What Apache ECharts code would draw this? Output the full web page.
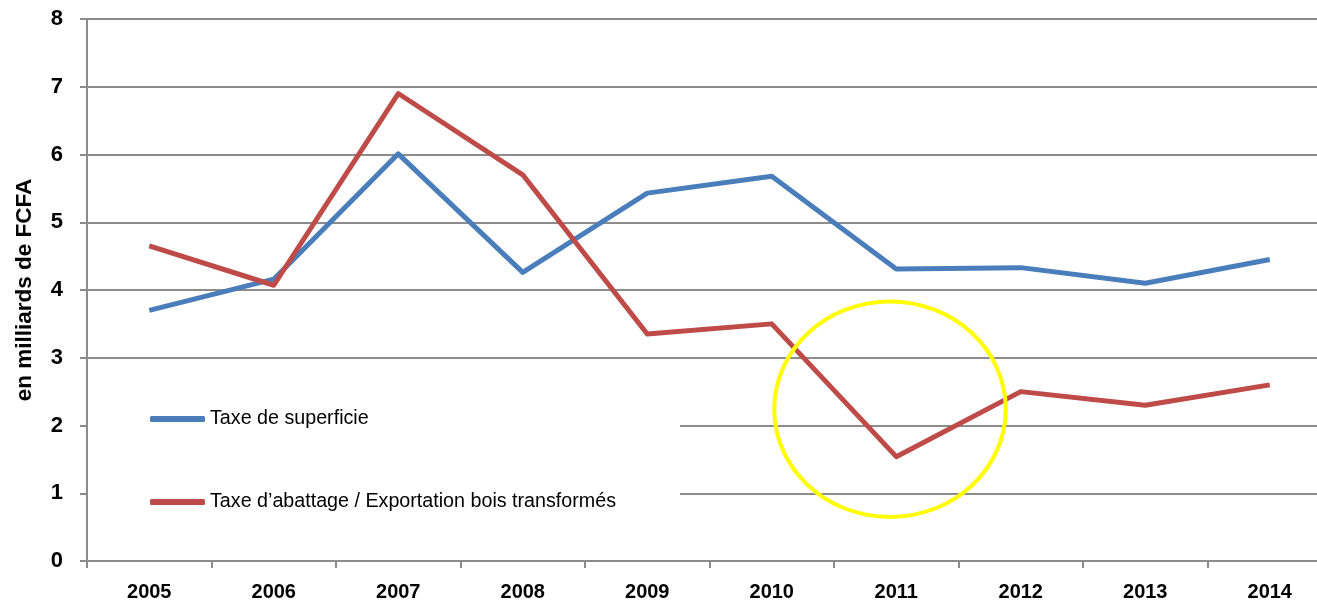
<!DOCTYPE html>
<html>
<head>
<meta charset="utf-8">
<script src="https://cdn.jsdelivr.net/npm/echarts@6/dist/echarts.min.js"></script>
<style>
html,body{margin:0;padding:0;background:#fff;}
#main{width:1317px;height:603px;}
</style>
</head>
<body>
<div id="main"></div>
<script>
const years = ['2005','2006','2007','2008','2009','2010','2011','2012','2013','2014'];
const taxeSuperficie = [3.70, 4.16, 6.01, 4.26, 5.43, 5.68, 4.31, 4.33, 4.10, 4.45];
const taxeAbattage = [4.65, 4.07, 6.90, 5.70, 3.35, 3.50, 1.54, 2.50, 2.30, 2.60];
const seriesNames = ['Taxe de superficie', 'Taxe d\u2019abattage / Exportation bois transformés'];
const yAxisTitle = 'en milliards de FCFA';
// highlight annotation (data coordinates)
const highlightYear = '2011';
const highlightValue = 2.24;

const FONT = '"Liberation Sans", Arial, sans-serif';
const GRID_GRAY = '#8c8c8c';

const chart = echarts.init(document.getElementById('main'), null, {renderer: 'canvas'});
const option = {
  animation: false,
  backgroundColor: '#ffffff',
  grid: {left: 87, right: -15, top: 19, bottom: 42, containLabel: false, outerBoundsMode: 'none'},
  legend: {
    orient: 'vertical',
    left: 88,
    top: 370,
    padding: [39, 64, 35, 62],
    backgroundColor: '#ffffff',
    itemGap: 63,
    itemWidth: 55,
    itemHeight: 6,
    icon: 'roundRect',
    textStyle: {fontFamily: FONT, fontSize: 19.7, color: '#000', lineHeight: 20},
    data: seriesNames
  },
  xAxis: {
    type: 'category',
    data: years,
    boundaryGap: true,
    axisLine: {show: true, lineStyle: {color: GRID_GRAY, width: 2}},
    axisTick: {show: true, length: 7, lineStyle: {color: GRID_GRAY, width: 2}},
    axisLabel: {fontFamily: FONT, fontSize: 20, fontWeight: 'bold', color: '#000', margin: 21}
  },
  yAxis: {
    type: 'value',
    min: 0, max: 8, interval: 1,
    name: yAxisTitle,
    nameLocation: 'middle',
    nameGap: 51,
    nameRotate: 90,
    nameTextStyle: {fontFamily: FONT, fontSize: 22.5, fontWeight: 'bold', color: '#000'},
    axisLine: {show: true, lineStyle: {color: GRID_GRAY, width: 2}},
    axisTick: {show: true, length: 7, lineStyle: {color: GRID_GRAY, width: 2}},
    axisLabel: {fontFamily: FONT, fontSize: 22, fontWeight: 'bold', color: '#000', margin: 24},
    splitLine: {show: true, lineStyle: {color: GRID_GRAY, width: 2}}
  },
  series: [
    {
      name: seriesNames[0], type: 'line', data: taxeSuperficie,
      symbol: 'none', color: '#4A7EBB',
      lineStyle: {width: 5, color: '#4A7EBB', join: 'round'}, z: 3
    },
    {
      name: seriesNames[1], type: 'line', data: taxeAbattage,
      symbol: 'none', color: '#BE4B48',
      lineStyle: {width: 5, color: '#BE4B48', join: 'round'}, z: 3
    }
  ]
};
chart.setOption(option);

// yellow highlight ellipse, positioned through the axes
const c = chart.convertToPixel({xAxisIndex: 0, yAxisIndex: 0}, [highlightYear, highlightValue]);
const p1 = chart.convertToPixel({xAxisIndex: 0, yAxisIndex: 0}, [years[1], 0]);
const p0 = chart.convertToPixel({xAxisIndex: 0, yAxisIndex: 0}, [years[0], 1]);
const catW = p1[0] - p0[0];
const unitH = p1[1] - p0[1];
chart.setOption({
  graphic: [{
    type: 'ellipse',
    z: 100,
    silent: true,
    shape: {cx: c[0] - 0.05 * catW, cy: c[1], rx: 0.93 * catW, ry: 1.59 * unitH},
    style: {fill: 'none', stroke: '#FFFF00', lineWidth: 4}
  }]
});
</script>
</body>
</html>
